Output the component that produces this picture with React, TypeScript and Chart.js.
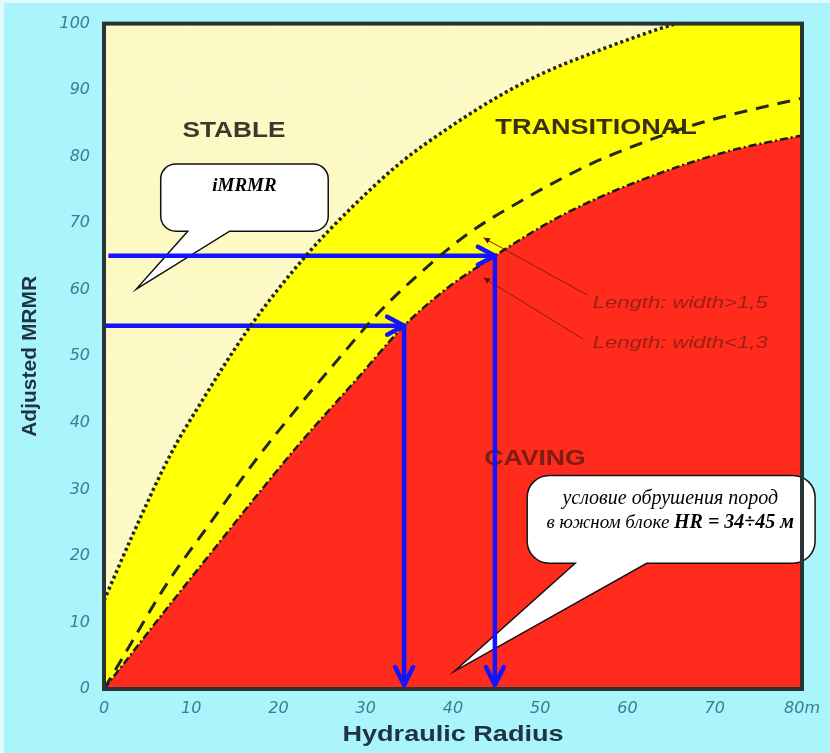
import React, { useEffect, useRef } from 'react';
import { Chart, registerables } from 'chart.js';

Chart.register(...registerables);

// ---- axis ticks ----
const X_TICKS = [0, 10, 20, 30, 40, 50, 60, 70, 80];
const X_TICK_LABELS = ['0', '10', '20', '30', '40', '50', '60', '70', '80m'];
const Y_TICKS = [0, 10, 20, 30, 40, 50, 60, 70, 80, 90, 100];

// ---- curves (Hydraulic Radius -> Adjusted MRMR) ----
// stable / transitional boundary (dotted)
const STABLE_X = [0, 3.4, 7.6, 11, 16.7, 23.2, 28.5, 33.9, 39.7, 45.4, 50.4, 56.8, 61.8, 65.6, 72, 80];
const STABLE_Y = [13.3, 23.5, 35.2, 42.8, 54.4, 65.2, 72.5, 79, 84.5, 89.2, 92.6, 96, 98.4, 100, 101.8, 103.2];
// Length: width > 1,5 (dashed)
const LW15_X = [0, 1.5, 7.2, 12.1, 17.5, 22.5, 27, 31.3, 35.8, 41.6, 48.4, 55.3, 58.8, 64, 69.5, 80];
const LW15_Y = [0, 3.3, 15.8, 24.8, 34.6, 42.8, 49.8, 56.3, 62, 68.3, 73.8, 78.6, 80.6, 83.2, 85.5, 88.8];
// Length: width < 1,3 — caving boundary (dash-dot)
const CAVING_X = [0, 7.2, 12.9, 17.9, 22.5, 29, 34.4, 39.5, 44.8, 51.1, 56.8, 64.5, 72.1, 80];
const CAVING_Y = [0, 12.1, 21.5, 29.7, 37.0, 46.6, 54.6, 60.4, 65.1, 70.2, 73.9, 77.9, 81.0, 83.2];

// ---- blue reading arrows (iMRMR -> HR) ----
const ARROW_LOW_X = [0, 34.4, 34.4];
const ARROW_LOW_Y = [54.6, 54.6, 0.6];
const ARROW_HIGH_X = [0.5, 44.8, 44.8];
const ARROW_HIGH_Y = [65.1, 65.1, 0.6];

const pts = (xs: number[], ys: number[]) => xs.map((x, i) => ({ x, y: ys[i] }));

function drawStretched(
  ctx: CanvasRenderingContext2D,
  text: string,
  x: number,
  y: number,
  font: string,
  color: string,
  sx: number,
  align: CanvasTextAlign = 'center'
) {
  ctx.save();
  ctx.font = font;
  ctx.fillStyle = color;
  ctx.textBaseline = 'middle';
  ctx.textAlign = align;
  ctx.translate(x, y);
  ctx.scale(sx, 1);
  ctx.fillText(text, 0, 0);
  ctx.restore();
}

function calloutPath(
  ctx: CanvasRenderingContext2D,
  l: number, t: number, r: number, b: number, rad: number,
  x1: number, x2: number, tx: number, ty: number
) {
  ctx.beginPath();
  ctx.moveTo(l + rad, t);
  ctx.lineTo(r - rad, t);
  ctx.arcTo(r, t, r, t + rad, rad);
  ctx.lineTo(r, b - rad);
  ctx.arcTo(r, b, r - rad, b, rad);
  ctx.lineTo(x2, b);
  ctx.lineTo(tx, ty);
  ctx.lineTo(x1, b);
  ctx.lineTo(l + rad, b);
  ctx.arcTo(l, b, l, b - rad, rad);
  ctx.lineTo(l, t + rad);
  ctx.arcTo(l, t, l + rad, t, rad);
  ctx.closePath();
  ctx.fillStyle = '#ffffff';
  ctx.fill();
  ctx.strokeStyle = '#111111';
  ctx.lineWidth = 1.5;
  ctx.stroke();
}

const SERIF = '"Liberation Serif", "Times New Roman", serif';

const decorPlugin = {
  id: 'decor',
  beforeDraw(chart: any) {
    const { ctx, width, height, chartArea: a } = chart;
    ctx.save();
    ctx.fillStyle = '#a9f5fb';
    ctx.fillRect(0, 0, width, height);
    ctx.fillStyle = '#e2fafd';
    ctx.fillRect(0, 0, width, 3);
    ctx.fillRect(0, 0, 4, height);
    ctx.fillStyle = '#fdf9c4';
    ctx.fillRect(a.left, a.top, a.right - a.left, a.bottom - a.top);
    ctx.restore();
  },
  beforeDatasetsDraw(chart: any) {
    const { ctx } = chart;
    const X = (v: number) => chart.scales.x.getPixelForValue(v);
    const Y = (v: number) => chart.scales.y.getPixelForValue(v);
    ctx.save();
    // zone labels
    drawStretched(ctx, 'STABLE', X(14.9), Y(83.8), 'bold 22px "Liberation Sans", Arial', '#3a392c', 1.19);
    drawStretched(ctx, 'TRANSITIONAL', X(56.4), Y(84.3), 'bold 22px "Liberation Sans", Arial', '#3b2f12', 1.23);
    drawStretched(ctx, 'CAVING', X(49.4), Y(34.6), 'bold 22px "Liberation Sans", Arial', '#7e1d12', 1.21);
    drawStretched(ctx, 'Length: width>1,5', X(56.0), Y(57.9), 'italic 17px "Liberation Sans", Arial', '#9a2015', 1.3, 'left');
    drawStretched(ctx, 'Length: width<1,3', X(56.0), Y(52.0), 'italic 17px "Liberation Sans", Arial', '#9a2015', 1.3, 'left');

    // leader lines with small arrowheads
    const leaders = [
      [55.4, 59.2, 43.5, 67.8],
      [54.9, 52.6, 43.5, 61.8],
    ];
    ctx.strokeStyle = '#8a1a12';
    ctx.fillStyle = '#5a1208';
    ctx.lineWidth = 1;
    leaders.forEach(([x0, y0, x1, y1]) => {
      const ax = X(x0), ay = Y(y0), bx = X(x1), by = Y(y1);
      ctx.beginPath();
      ctx.moveTo(ax, ay);
      ctx.lineTo(bx, by);
      ctx.stroke();
      const ang = Math.atan2(by - ay, bx - ax);
      ctx.beginPath();
      ctx.moveTo(bx, by);
      ctx.lineTo(bx - 7 * Math.cos(ang - 0.45), by - 7 * Math.sin(ang - 0.45));
      ctx.lineTo(bx - 7 * Math.cos(ang + 0.45), by - 7 * Math.sin(ang + 0.45));
      ctx.closePath();
      ctx.fill();
    });

    // callout 1
    calloutPath(ctx, X(6.5), Y(78.9), X(25.7), Y(68.8), 15, X(9.6), X(14.4), X(3.7), Y(60.1));
    ctx.fillStyle = '#000';
    ctx.textAlign = 'center';
    ctx.textBaseline = 'middle';
    ctx.font = 'italic bold 19px ' + SERIF;
    ctx.fillText('iMRMR', X(16.1), Y(75.6));

    // callout 2
    calloutPath(ctx, X(48.5), Y(32.1), X(81.5), Y(18.9), 22, X(54.0), X(62.2), X(40.2), Y(2.7));
    ctx.fillStyle = '#000';
    ctx.font = 'italic 20px ' + SERIF;
    ctx.fillText('условие обрушения пород', X(64.9), Y(28.6));
    const p1 = 'в южном блоке ';
    const p2 = 'HR = 34÷45 м';
    ctx.font = 'italic 19px ' + SERIF;
    const w1 = ctx.measureText(p1).width;
    ctx.font = 'italic bold 20px ' + SERIF;
    const w2 = ctx.measureText(p2).width;
    const sx = X(64.9) - (w1 + w2) / 2;
    ctx.textAlign = 'left';
    ctx.font = 'italic 19px ' + SERIF;
    ctx.fillText(p1, sx, Y(24.9));
    ctx.font = 'italic bold 20px ' + SERIF;
    ctx.fillText(p2, sx + w1, Y(24.9));
    ctx.restore();
  },
  afterDatasetsDraw(chart: any) {
    const { ctx } = chart;
    const X = (v: number) => chart.scales.x.getPixelForValue(v);
    const Y = (v: number) => chart.scales.y.getPixelForValue(v);
    ctx.save();
    ctx.strokeStyle = '#1414ff';
    ctx.lineWidth = 4.5;
    ctx.lineCap = 'round';
    ctx.lineJoin = 'round';
    const heads = [
      [ARROW_LOW_X, ARROW_LOW_Y],
      [ARROW_HIGH_X, ARROW_HIGH_Y],
    ];
    heads.forEach(([xs, ys]) => {
      const hx = X(xs[1]), hy = Y(ys[1]);
      ctx.beginPath();
      ctx.moveTo(hx - 17, hy - 9);
      ctx.lineTo(hx, hy);
      ctx.lineTo(hx - 17, hy + 9);
      ctx.stroke();
      const vx = X(xs[2]), vy = Y(ys[2]);
      ctx.beginPath();
      ctx.moveTo(vx - 9, vy - 18);
      ctx.lineTo(vx, vy);
      ctx.lineTo(vx + 9, vy - 18);
      ctx.stroke();
    });
    ctx.restore();
  },
  afterDraw(chart: any) {
    const { ctx, chartArea: a } = chart;
    ctx.save();
    ctx.strokeStyle = '#2a3434';
    ctx.lineWidth = 4;
    ctx.strokeRect(a.left, a.top, a.right - a.left, a.bottom - a.top);
    drawStretched(ctx, 'Hydraulic Radius', (a.left + a.right) / 2, 735, 'bold 22px "Liberation Sans", Arial', '#1f3341', 1.23);
    ctx.translate(30, (a.top + a.bottom) / 2);
    ctx.rotate(-Math.PI / 2);
    drawStretched(ctx, 'Adjusted MRMR', 0, 0, 'bold 21px "Liberation Sans", Arial', '#1f3341', 1.0);
    ctx.restore();
  },
};

export default function App() {
  const ref = useRef<HTMLCanvasElement>(null);
  useEffect(() => {
    document.body.style.margin = '0';
    const canvas = ref.current!;
    const chart = new Chart(canvas, {
      type: 'line',
      data: {
        datasets: [
          {
            label: 'Length: width<1,3',
            data: pts(CAVING_X, CAVING_Y),
            borderColor: '#1c1c1c',
            borderWidth: 2.5,
            borderDash: [8, 3, 2, 3],
            backgroundColor: '#ff2b1c',
            fill: 'origin',
            cubicInterpolationMode: 'monotone',
            pointRadius: 0,
          },
          {
            label: 'Stable limit',
            data: pts(STABLE_X, STABLE_Y),
            borderColor: '#222222',
            borderWidth: 3.5,
            borderDash: [3, 3],
            backgroundColor: '#ffff06',
            fill: 0,
            cubicInterpolationMode: 'monotone',
            pointRadius: 0,
          },
          {
            label: 'Length: width>1,5',
            data: pts(LW15_X, LW15_Y),
            borderColor: '#262620',
            borderWidth: 3,
            borderDash: [13, 9],
            fill: false,
            cubicInterpolationMode: 'monotone',
            pointRadius: 0,
          },
          {
            label: 'arrow low',
            data: pts(ARROW_LOW_X, ARROW_LOW_Y),
            borderColor: '#1414ff',
            borderWidth: 4.5,
            fill: false,
            tension: 0,
            pointRadius: 0,
          },
          {
            label: 'arrow high',
            data: pts(ARROW_HIGH_X, ARROW_HIGH_Y),
            borderColor: '#1414ff',
            borderWidth: 4.5,
            fill: false,
            tension: 0,
            pointRadius: 0,
          },
        ],
      } as any,
      options: {
        responsive: false,
        animation: false,
        devicePixelRatio: 1,
        layout: { padding: { top: 22, right: 28, left: 0, bottom: 0 } },
        plugins: {
          legend: { display: false },
          tooltip: { enabled: false },
          filler: { drawTime: 'beforeDatasetsDraw' },
        },
        scales: {
          x: {
            type: 'linear',
            min: 0,
            max: 80,
            z: 1,
            afterFit: (s: any) => { s.height = 64; },
            afterBuildTicks: (s: any) => { s.ticks = X_TICKS.map((v) => ({ value: v })); },
            ticks: {
              autoSkip: false,
              maxRotation: 0,
              padding: 10,
              color: '#3d7d8d',
              font: { family: 'DejaVu Sans', style: 'italic', size: 16 },
              callback: (v: any) => X_TICK_LABELS[X_TICKS.indexOf(Number(v))] ?? '',
            },
            grid: { color: 'rgba(255,255,255,0.2)', lineWidth: 2, drawTicks: false },
            border: { display: false },
          },
          y: {
            type: 'linear',
            min: 0,
            max: 100,
            z: 1,
            afterFit: (s: any) => { s.width = 104; },
            afterBuildTicks: (s: any) => { s.ticks = Y_TICKS.map((v) => ({ value: v })); },
            ticks: {
              autoSkip: false,
              padding: 14,
              color: '#3d7d8d',
              font: { family: 'DejaVu Sans', style: 'italic', size: 16 },
            },
            grid: { color: 'rgba(255,255,255,0.2)', lineWidth: 2, drawTicks: false },
            border: { display: false },
          },
        },
      } as any,
      plugins: [decorPlugin],
    });
    return () => chart.destroy();
  }, []);
  return <canvas ref={ref} width={830} height={753} style={{ display: 'block' }} />;
}
